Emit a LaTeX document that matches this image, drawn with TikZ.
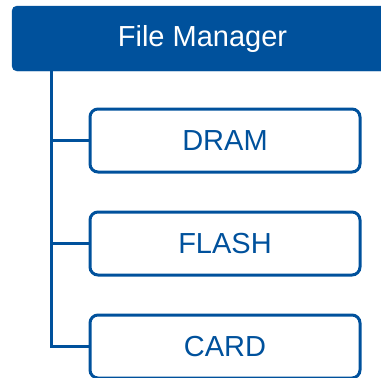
\documentclass[tikz,border=0pt]{standalone}
\usepackage{fontspec}
\setmainfont{Liberation Sans}
\usetikzlibrary{positioning}
\definecolor{fmblue}{HTML}{00519C}

\begin{document}
\begin{tikzpicture}[x=1pt,y=-1pt,
  headbox/.style={fill=fmblue,draw=fmblue,rounded corners=5pt,text=white,
    minimum width=381pt,minimum height=65pt,font=\fontsize{29}{33}\selectfont},
  memorybox/.style={draw=fmblue,line width=3pt,rounded corners=8pt,text=fmblue,
    minimum width=270pt,minimum height=63pt,font=\fontsize{29}{33}\selectfont},
  branch/.style={draw=fmblue,line width=3pt}]
  \clip (0,0) rectangle (381,378);
  % header
  \node[headbox] (manager) at (202.5,38.5) {File Manager};
  % memories
  \node[memorybox] (dram) at (225,140.5) {DRAM};
  \node[memorybox,below=37pt of dram] (flash) {FLASH};
  \node[memorybox,below=37pt of flash] (card) {CARD};
  % tree
  \coordinate (trunk) at (51.5,70);
  \foreach \m in {dram,flash,card}
    {\draw[branch] (trunk) |- (\m.west);}
\end{tikzpicture}
\end{document}
